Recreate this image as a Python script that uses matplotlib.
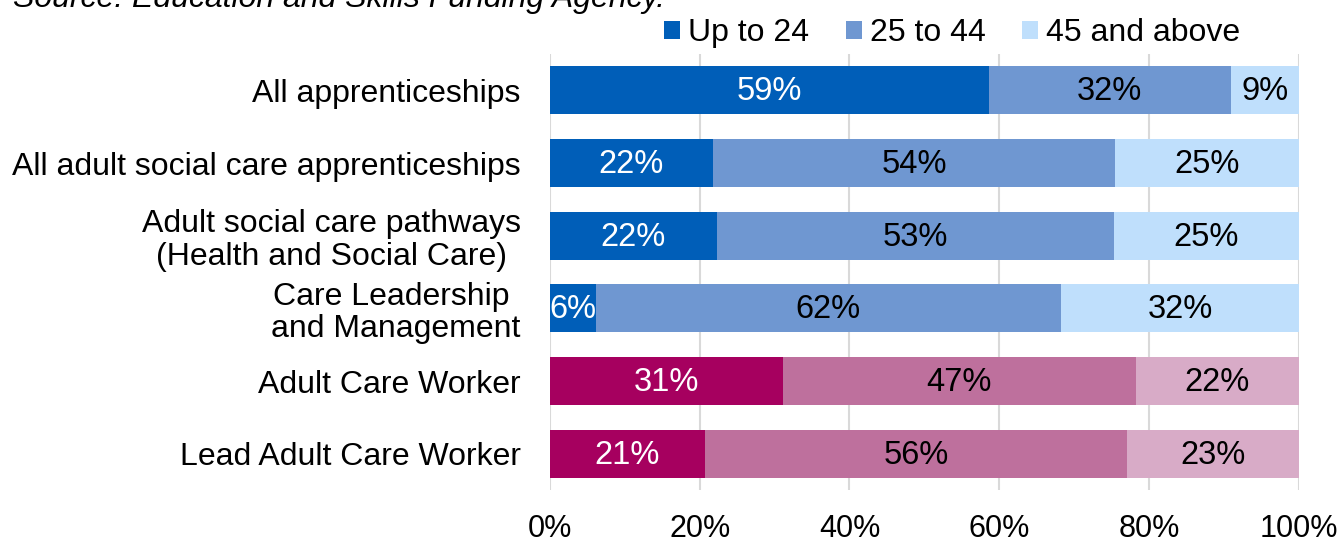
import matplotlib.pyplot as plt
from matplotlib.patches import Patch

plt.rcParams['font.family'] = ['Liberation Sans', 'DejaVu Sans']

categories = [
    'All apprenticeships',
    'All adult social care apprenticeships',
    'Adult social care pathways\n(Health and Social Care)',
    'Care Leadership \nand Management',
    'Adult Care Worker',
    'Lead Adult Care Worker',
]
age_groups = ['Up to 24', '25 to 44', '45 and above']

# share of starts by age group (%)
up_to_24 = [58.6, 21.8, 22.3, 6.1, 31.1, 20.7]
age_25_44 = [32.3, 53.6, 53.0, 62.1, 47.1, 56.3]
age_45_up = [9.1, 24.6, 24.7, 31.8, 21.8, 23.0]

blues = ['#005EB8', '#6F97D1', '#BFDFFC']
pinks = ['#A6005F', '#BE709D', '#D8ABC7']
pink_rows = [4, 5]

fig = plt.figure(figsize=(13.41, 5.41), dpi=100)
ax = fig.add_axes([0.410, 0.0943, 0.5587, 0.8057])

series = [up_to_24, age_25_44, age_45_up]
y = list(range(len(categories)))
left = [0.0] * len(categories)
for k, vals in enumerate(series):
    colors = [pinks[k] if i in pink_rows else blues[k] for i in y]
    ax.barh(y, vals, left=left, height=0.66, color=colors, zorder=2)
    for i, v in enumerate(vals):
        txt_color = 'white' if k == 0 else 'black'
        ax.text(left[i] + v / 2, i + 0.02, f'{v:.0f}%', ha='center', va='center',
                fontsize=23.5, color=txt_color, zorder=3)
    left = [a + b for a, b in zip(left, vals)]

ax.set_xlim(0, 100)
ax.set_ylim(len(categories) - 0.5, -0.5)
ax.set_xticks([0, 20, 40, 60, 80, 100])
ax.set_xticklabels([f'{t}%' for t in [0, 20, 40, 60, 80, 100]], fontsize=22)
ax.set_yticks(y)
ax.set_yticklabels(categories, fontsize=23, multialignment='center',
                   linespacing=1.1)
ax.tick_params(axis='both', length=0)
ax.tick_params(axis='x', pad=17)
ax.tick_params(axis='y', pad=21)
ax.grid(axis='x', color='#D9D9D9', linewidth=1.5, zorder=0)
for s in ax.spines.values():
    s.set_visible(False)

handles = [Patch(facecolor=c) for c in blues]
fig.legend(handles, age_groups, loc='center', ncol=3,
           bbox_to_anchor=(952 / 1341, 1 - 33 / 541), frameon=False,
           fontsize=23, handlelength=0.5, handleheight=0.5,
           handletextpad=0.25, columnspacing=1.15, borderpad=0)

fig.text(13 / 1341, 1 - 7 / 541, 'Source: Education and Skills Funding Agency.',
         fontsize=23, style='italic', ha='left', va='baseline')

fig.savefig('out.png', dpi=100)
